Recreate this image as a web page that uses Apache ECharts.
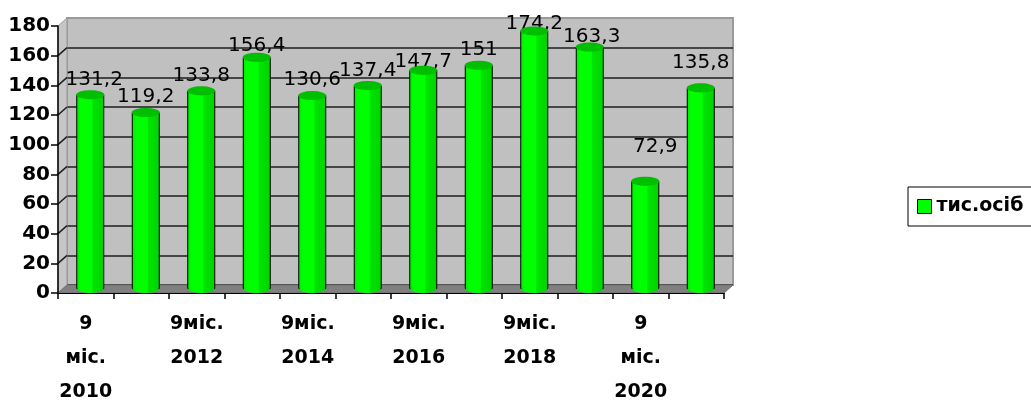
<!DOCTYPE html>
<html>
<head>
<meta charset="utf-8">
<script src="https://cdn.jsdelivr.net/npm/echarts@6/dist/echarts.min.js"></script>
<style>
  html, body { margin: 0; padding: 0; background: #fff; }
  #chart { width: 1031px; height: 401px; }
</style>
</head>
<body>
<div id="chart"></div>
<script>
// Data
const categories = [
    '9\nміс.\n2010', '9міс.\n2011', '9міс.\n2012', '9міс.\n2013', '9міс.\n2014', '9міс.\n2015',
    '9міс.\n2016', '9міс.\n2017', '9міс.\n2018', '9міс.\n2019', '9\nміс.\n2020', '9міс.\n2021'
];
const values = [131.2, 119.2, 133.8, 156.4, 130.6, 137.4, 147.7, 151, 174.2, 163.3, 72.9, 135.8];
const seriesName = 'тис.осіб';
const yTicks = [0, 20, 40, 60, 80, 100, 120, 140, 160, 180];

// small nudges of the data labels, as placed in the original
const labelShift = [[4, 0], [0, 0], [0, 0], [0, 4], [0, 0], [0, 1], [0, 7], [0, 0], [0, 8], [2, 5], [10, -19], [0, -10]];

// 3D layout: back wall, bar plane and front axis plane
const DEPTH_X = 9, DEPTH_Y = 8;
const FRONT = {left: 58, top: 26, width: 666, height: 267};
const MID = {left: FRONT.left + DEPTH_X / 2, top: FRONT.top - DEPTH_Y / 2, width: FRONT.width, height: FRONT.height};
const BACK = {left: FRONT.left + DEPTH_X, top: FRONT.top - DEPTH_Y, width: FRONT.width, height: FRONT.height};

const font = 'DejaVu Sans';
const yMax = yTicks[yTicks.length - 1];
const yStep = yTicks[1] - yTicks[0];

const barFill = new echarts.graphic.LinearGradient(0, 0, 1, 0, [
    {offset: 0, color: '#00e600'},
    {offset: 0.15, color: '#00ff00'},
    {offset: 0.55, color: '#00ff00'},
    {offset: 0.6, color: '#00e400'},
    {offset: 1, color: '#00d200'}
]);

const chart = echarts.init(document.getElementById('chart'));

chart.setOption({
    animation: false,
    backgroundColor: '#fff',
    grid: [
        Object.assign({show: true, backgroundColor: '#c0c0c0', borderColor: '#9a9a9a', borderWidth: 2, outerBoundsMode: 'none'}, BACK),
        Object.assign({outerBoundsMode: 'none'}, MID),
        Object.assign({outerBoundsMode: 'none'}, FRONT)
    ],
    xAxis: [
        {gridIndex: 0, type: 'category', data: categories, show: false},
        {gridIndex: 1, type: 'category', data: categories, show: false},
        {
            gridIndex: 2, type: 'category', data: categories, z: 6,
            axisLine: {show: true, lineStyle: {color: '#000', width: 1}},
            axisTick: {show: true, interval: 0, length: 6, lineStyle: {color: '#000', width: 1.5}},
            axisLabel: {
                interval: 1, color: '#000', fontFamily: font, fontWeight: 'bold',
                fontSize: 19, lineHeight: 34, margin: 14
            }
        }
    ],
    yAxis: [
        {
            gridIndex: 0, type: 'value', min: 0, max: yMax, interval: yStep,
            axisLine: {show: false}, axisTick: {show: false}, axisLabel: {show: false},
            splitLine: {
                show: true,
                lineStyle: {
                    width: 1.5,
                    color: yTicks.map((t, i) => i === yTicks.length - 1 ? '#9a9a9a' : '#1e1e1e')
                }
            }
        },
        {gridIndex: 1, type: 'value', min: 0, max: yMax, interval: yStep, show: false},
        {
            gridIndex: 2, type: 'value', min: 0, max: yMax, interval: yStep, z: 6,
            axisLine: {show: true, lineStyle: {color: '#000', width: 1.5}},
            axisTick: {show: true, length: 7, lineStyle: {color: '#000', width: 1.5}},
            axisLabel: {color: '#000', fontFamily: font, fontWeight: 'bold', fontSize: 20, margin: 8},
            splitLine: {show: false}
        }
    ],
    legend: {
        left: 908, top: 187,
        borderColor: '#000', borderWidth: 1,
        padding: [10, 10, 10, 9],
        itemWidth: 14, itemHeight: 14,
        icon: 'rect',
        data: [{name: seriesName, itemStyle: {color: '#00ff00', borderColor: '#000', borderWidth: 1}}],
        textStyle: {fontFamily: font, fontWeight: 'bold', fontSize: 19, color: '#000'}
    },
    series: [
        {
            // outline of the rounded bottom, under the bar
            type: 'pictorialBar', xAxisIndex: 1, yAxisIndex: 1, data: values,
            symbol: 'circle', symbolSize: [28, 9], symbolPosition: 'start', symbolOffset: [0, '50%'],
            itemStyle: {color: '#00e800', borderColor: '#000', borderWidth: 1},
            z: 1, silent: true
        },
        {
            name: seriesName, type: 'bar', xAxisIndex: 1, yAxisIndex: 1,
            barWidth: 28,
            data: values.map((v, i) => ({value: v, label: {offset: labelShift[i]}})),
            itemStyle: {color: barFill, borderColor: '#000', borderWidth: 1},
            label: {
                show: true, position: 'top', distance: 5,
                fontFamily: font, fontSize: 20, color: '#000',
                formatter: p => String(p.value).replace('.', ',')
            },
            z: 2
        },
        {
            // fill of the rounded bottom, hides the flat bar edge
            type: 'pictorialBar', xAxisIndex: 1, yAxisIndex: 1, data: values,
            symbol: 'circle', symbolSize: [26, 8], symbolPosition: 'start', symbolOffset: [0, '50%'],
            itemStyle: {color: barFill},
            z: 3, silent: true
        },
        {
            // top cap of each cylinder
            type: 'pictorialBar', xAxisIndex: 1, yAxisIndex: 1, data: values,
            symbol: 'circle', symbolSize: [28, 9], symbolPosition: 'end', symbolOffset: [0, '-50%'],
            itemStyle: {color: '#00bf00', borderColor: '#000', borderWidth: 1},
            z: 4, silent: true
        }
    ]
});

// Side wall and floor, from the axis scales
const yb = v => chart.convertToPixel({yAxisIndex: 0}, v);
const yf = v => chart.convertToPixel({yAxisIndex: 2}, v);
const frontRight = FRONT.left + FRONT.width;
const backRight = BACK.left + BACK.width;

const graphics = [
    {
        type: 'polygon', z: 1,
        shape: {points: [[FRONT.left, yf(0)], [FRONT.left, yf(yMax)], [BACK.left, yb(yMax)], [BACK.left, yb(0)]]},
        style: {fill: '#c6c6c6', stroke: '#9a9a9a', lineWidth: 1}
    },
    {
        type: 'polygon', z: 1,
        shape: {points: [[FRONT.left, yf(0)], [BACK.left, yb(0)], [backRight, yb(0)], [frontRight, yf(0)]]},
        style: {fill: '#808080', stroke: '#707070', lineWidth: 1}
    }
];
yTicks.slice(1, -1).forEach(t => {
    graphics.push({
        type: 'line', z: 1,
        shape: {x1: FRONT.left, y1: yf(t), x2: BACK.left, y2: yb(t)},
        style: {stroke: '#1e1e1e', lineWidth: 1.5}
    });
});
chart.setOption({graphic: graphics});
</script>
</body>
</html>
